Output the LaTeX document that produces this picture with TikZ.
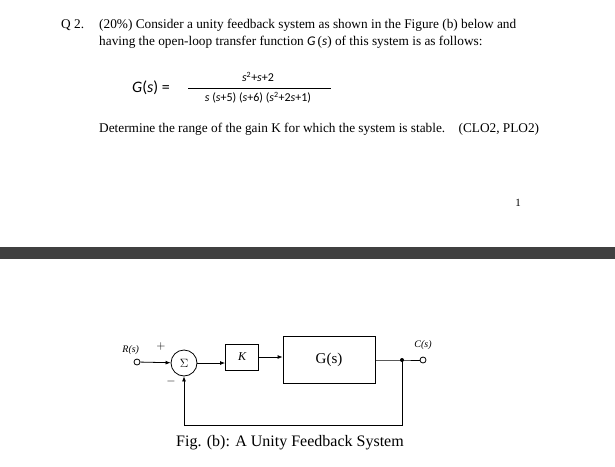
\documentclass[tikz,border=0pt]{standalone}
\usepackage{fontspec}
\setmainfont{Liberation Serif}
\newfontfamily\calfont{Carlito}
\usetikzlibrary{positioning,arrows.meta}

\tikzset{
  txt/.style={anchor=base west, font=\fontsize{13.3}{16}\selectfont, inner sep=0pt},
  frc/.style={font=\calfont\fontsize{12}{14}\selectfont, inner sep=0pt},
  blk/.style={draw, thick, minimum height=26pt, inner sep=2pt},
  port/.style={draw, thick, circle, fill=white, inner sep=0pt, minimum size=6pt},
  sig/.style={-{Latex[length=5pt,width=4pt]}, thick}
}

\begin{document}
\begin{tikzpicture}[x=1pt,y=-1pt]
        \useasboundingbox (0,0) rectangle (615,466);
        % question text
        \node[txt] (qno) at (61,28) {Q 2.};
        \node[txt] (l1) at (99,28) {(20\%) Consider a unity feedback system as shown in the Figure (b) below and};
        \node[txt] (l2) at (99,45) {having the open-loop transfer function {\calfont\itshape G}\,({\calfont\itshape s}) of this system is as follows:};
        \node[anchor=west, font=\calfont\fontsize{16}{18}\selectfont, inner sep=0pt] (geq) at (132,88) {\itshape G\upshape(\itshape s\upshape) =};
        \node[frc] (num) at (258,77) {\itshape s\upshape\textsuperscript{2}+\itshape s\upshape+2};
        \node[frc] (den) at (258,98) {\itshape s\upshape\ (\itshape s\upshape+5) (\itshape s\upshape+6) (\itshape s\upshape\textsuperscript{2}+2\itshape s\upshape+1)};
        \draw[thick] (188,88) -- (331,88);
        \node[txt] (l3) at (99,132) {Determine the range of the gain K for which the system is stable.\quad(CLO2, PLO2)};
        \node[font=\fontsize{11}{12}\selectfont] (pg) at (518,203) {1};
        \fill[black!75] (0,247) rectangle (615,259);

        % block diagram
        \node[port] (r) at (137,362) {};
        \node[above left=1pt and -8pt of r, font=\itshape] (rl) {R(s)};
        \node[draw, thick, circle, minimum size=26pt, inner sep=0pt, font=\large] (sum) at (184,363) {$\Sigma$};
        \node[blk, minimum width=33pt, font=\itshape\large] (k) at (242,357) {K};
        \node[blk, minimum width=92pt, minimum height=47pt, font=\fontsize{15}{18}\selectfont] (g) at (329,360) {G(s)};
        \coordinate (br) at (402,360);
        \node[port] (c) at (423,360) {};
        \node[above=3pt of c, font=\itshape] (cl) {C(s)};
        \coordinate (fb) at (402,425);
        \node[font=\large] at (161,346) {$+$};
        \node[font=\large] at (171,381) {$-$};

        \draw[sig] (r) -- (sum);
        \draw[sig] (sum.east) -- (k.west |- sum.east);
        \draw[sig] (k.east) -- (g.west |- k.east);
        \draw[thick] (g.east) -- (br) -- (c);
        \fill (br) circle (2pt);
        \draw[sig] (br) -- (fb) -- (sum.south |- fb) -- (sum.south);

        \node[font=\fontsize{16}{19}\selectfont] (cap) at (290,443) {Fig. (b): A Unity Feedback System};
    \end{tikzpicture}
\end{document}
